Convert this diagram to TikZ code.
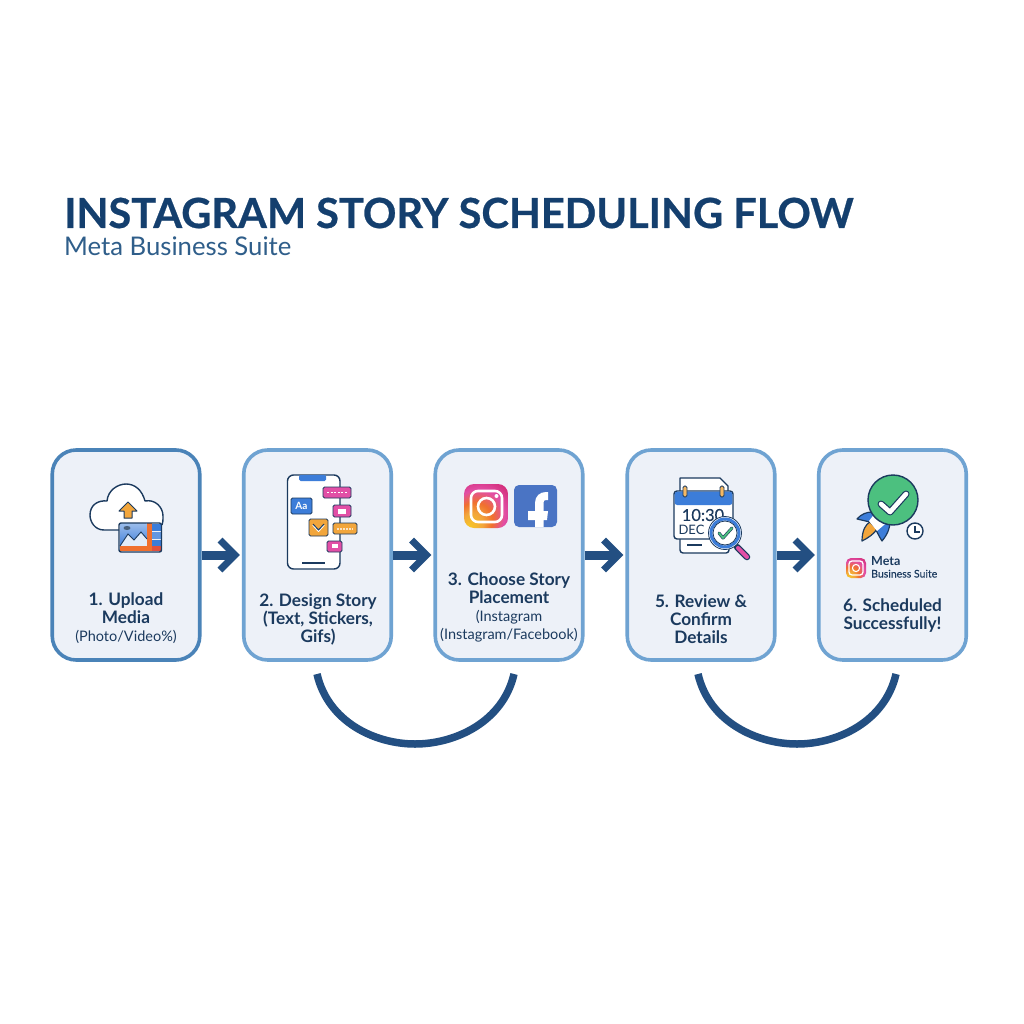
\documentclass[tikz,border=0pt]{standalone}
\usepackage{fontspec}
\setmainfont{Lato}
\newfontfamily\titlefont[FakeBold=0.6]{Lato}
\newfontfamily\medfont[FakeBold=0.25]{Lato}
\usetikzlibrary{arrows.meta}
\definecolor{navy}{HTML}{1B3A5E}
\definecolor{titleblue}{HTML}{143F6E}
\definecolor{subblue}{HTML}{2F5E8A}
\definecolor{flow}{HTML}{234F82}
\definecolor{boxfill}{HTML}{EDF1F8}
\definecolor{edgedark}{HTML}{4A83B8}
\definecolor{edgelight}{HTML}{6FA3D2}
\definecolor{ublue}{HTML}{3C7DD9}
\definecolor{upink}{HTML}{E24FA6}
\definecolor{uorange}{HTML}{F2A63C}
\definecolor{ured}{HTML}{E0513F}
\definecolor{ugreen}{HTML}{4CC07F}
\definecolor{fbblue}{HTML}{4A74C4}
\definecolor{ocdeep}{HTML}{F0702E}
\pgfdeclareradialshading{igshade}{\pgfpoint{-20bp}{-25bp}}{
 color(0bp)=(uorange!60!yellow); color(12bp)=(uorange); color(20bp)=(ocdeep); color(30bp)=(upink); color(40bp)=(upink!55!purple); color(55bp)=(blue!45!purple)}
\tikzset{
 flowbox/.style={draw=edgelight,fill=boxfill,line width=3.6pt,rounded corners=24pt,minimum width=147.5pt,minimum height=210pt,inner sep=0pt},
 lab/.style={text=navy,align=center,font=\fontsize{17.2}{18}\selectfont\bfseries,inner sep=0pt},
 flowarrow/.style={draw=flow,line width=9pt,-{Straight Barb[length=15pt,width=30pt,line width=7pt]},shorten >=2pt},
 flowarc/.style={draw=flow,line width=7.5pt},
 ic/.style={draw=navy,line width=1.4pt,line join=round},
 sticker/.style={draw=navy,line width=.9pt,line join=round,rounded corners=1.5pt},
 stickerdash/.style={white,line width=1.6pt,dash pattern=on 2pt off 1.5pt},
}
\newcommand{\thinline}{\fontsize{14.5}{17}\selectfont\mdseries}
\begin{document}
\begin{tikzpicture}[x=1pt,y=-1pt]
\useasboundingbox (0,0) rectangle (1024,1024);
\fill[white!98!boxfill] (0,0) rectangle (1024,1024);
% title
\node[anchor=base west,inner sep=0pt,text=titleblue,font=\fontsize{41.5}{42}\selectfont\titlefont\bfseries] (title) at (64,228) {INSTAGRAM STORY SCHEDULING FLOW};
\node[anchor=base west,inner sep=0pt,text=subblue,font=\fontsize{25.7}{26}\selectfont] (subtitle) at (64,255) {Meta Business Suite};
% boxes
\node[flowbox,draw=edgedark] (b1) at (126,555) {};
\node[flowbox] (b2) at (317.5,555) {};
\node[flowbox] (b3) at (509,555) {};
\node[flowbox] (b4) at (701,555) {};
\node[flowbox] (b5) at (892.5,555) {};
% arrows
\draw[flowarrow] (b1.east) -- (b2.west);
\draw[flowarrow] (b2.east) -- (b3.west);
\draw[flowarrow] (b3.east) -- (b4.west);
\draw[flowarrow] (b4.east) -- (b5.west);
% arcs
\coordinate (a1s) at (317,674); \coordinate (a1m) at (415,744); \coordinate (a1e) at (514,674);
\coordinate (a2s) at (698,674); \coordinate (a2m) at (797,744); \coordinate (a2e) at (896,674);
\draw[flowarc] (a1s) .. controls (328,722) and (375,744) .. (a1m) .. controls (455,744) and (503,722) .. (a1e);
\draw[flowarc] (a2s) .. controls (709,722) and (757,744) .. (a2m) .. controls (837,744) and (885,722) .. (a2e);
% labels
\node[lab] (l1) at (126,618.5) {1. Upload\\Media\\{\thinline (Photo/Video\%)}};
\node[lab] (l2) at (318,619) {2. Design Story\\(Text, Stickers,\\Gifs)};
\node[lab] (l3) at (509,607.5) {3. Choose Story\\Placement\\{\thinline (Instagram}\\{\thinline (Instagram/Facebook)}};
\node[lab] (l4) at (701,619) {5. Review \&\\Confirm\\Details};
\node[lab] (l5) at (892.5,615.5) {6. Scheduled\\Successfully!};
% icon 1: cloud and picture
\draw[ic,fill=white] (119,530) -- (104,530) .. controls (95,530) and (90,522) .. (90,515) .. controls (90,505) and (98,500) .. (107,501) .. controls (108,490) and (118,484) .. (126,484) .. controls (135,484) and (142,490) .. (145,501) .. controls (155,499) and (163,507) .. (163,516) .. controls (163,520) and (163,523) .. (162,525);
\draw[draw=navy,fill=uorange,line width=1pt,line join=round] (128,502) -- (137,511) -- (132,511) -- (132,518) -- (124,518) -- (124,511) -- (119,511) -- cycle;
\shade[top color=ublue!50!white,bottom color=ublue,rounded corners=1pt] (120,523) rectangle (147,547);
\fill[white!85!ublue] (120,546) -- (128,534) -- (134,540) -- (141,532) -- (147,539) -- (147,546) -- cycle;
\fill[ocdeep] (120,546) rectangle (147,551);
\fill[ocdeep] (147,523) rectangle (152,551);
\fill[ublue] (152,524) rectangle (161,531);
\fill[ublue!80!white] (152,532) rectangle (161,539);
\fill[ublue] (152,540) rectangle (161,546);
\fill[ured] (152,546) rectangle (161,551);
\draw[navy,line width=.9pt] (120,546) -- (128,534) -- (134,540) -- (141,532) -- (147,539);
\fill[navy!80] (127,528) ellipse [x radius=3.5,y radius=2];
\draw[ic,rounded corners=2pt] (119,523) rectangle (161.5,552);
% icon 2: phone
\draw[ic,fill=white,rounded corners=6pt] (287.5,475) rectangle (340,569);
\fill[ublue,rounded corners=1.5pt] (299,475) rectangle (326,481);
\draw[navy,line width=1.4pt] (302,563) -- (325,563);
\draw[sticker,fill=upink] (323,487) rectangle (351,498);
\draw[stickerdash] (327,492.5) -- (347,492.5);
\draw[sticker,fill=ublue] (291,498) rectangle (312,514);
\node[inner sep=0pt,text=white,font=\fontsize{10}{10}\selectfont\bfseries] (aa) at (301.5,506) {Aa};
\draw[sticker,fill=upink] (333,505) rectangle (351,517);
\fill[white] (338,508.5) rectangle (346,513.5);
\draw[sticker,fill=uorange] (309,519) rectangle (328,536);
\draw[white,line width=1.6pt] (313,525) -- (318.5,531) -- (324,525);
\draw[navy,line width=1pt] (313,524) -- (318.5,530) -- (324,524);
\draw[sticker,fill=uorange] (333,523) rectangle (357,534);
\draw[white!70!uorange,line width=2.4pt,dash pattern=on 2pt off 1pt] (337,529) -- (353,529);
\draw[sticker,fill=upink] (327,541) rectangle (342,552);
\fill[white] (331.5,544) rectangle (337.5,548);
% icon 3: instagram and facebook
\shade[shading=igshade,rounded corners=10pt] (464,484) rectangle (508,528);
\draw[white,line width=2.6pt,rounded corners=7pt] (471,491) rectangle (502,522);
\draw[white,line width=2.6pt] (486.5,506.5) circle [radius=8.5];
\fill[white] (496.5,496) circle [radius=2];
\fill[fbblue,rounded corners=5pt] (514,485) rectangle (557,527);
\fill[white] (535,527) -- (535,520) -- (528,520) -- (528,511) -- (535,511) -- (535,503) .. controls (535,496) and (540,492) .. (546,492) -- (548,492) -- (548,500) -- (546,500) .. controls (544,500) and (543.5,501) .. (543.5,503) -- (543.5,511) -- (548,511) -- (547,520) -- (543.5,520) -- (543.5,527) -- cycle;
% icon 4: calendar
\draw[ic,fill=white] (680,495) -- (680,478) -- (720,478) -- (728,486) -- (728,495) -- cycle;
\draw[ic,fill=white,rounded corners=3pt] (680,535) rectangle (729,553);
\draw[ic,fill=white,rounded corners=3pt] (674,491) rectangle (733,539);
\fill[ublue,rounded corners=2.5pt] (674.7,491.7) rectangle (732.3,505);
\draw[navy,line width=.8pt,fill=uorange!80!white,rounded corners=1.5pt] (683,486) rectangle (687,497);
\draw[navy,line width=.8pt,fill=uorange!80!white,rounded corners=1.5pt] (720,486) rectangle (724,497);
\node[inner sep=0pt,text=navy,font=\fontsize{16.5}{17}\selectfont\medfont] (time) at (703,515) {10:30};
\node[inner sep=0pt,text=navy,font=\fontsize{13}{13}\selectfont] (dec) at (691.5,530) {DEC};
\draw[navy,line width=1.2pt] (687,545) -- (702,545);
\draw[navy,line width=6.5pt,line cap=round] (737,547) -- (747,557);
\draw[upink,line width=4pt,line cap=round] (738,548) -- (747,557);
\draw[navy,fill=white,line width=.8pt] (725,533) circle [radius=16.5];
\draw[ublue,line width=3pt] (725,533) circle [radius=14];
\draw[navy,line width=.8pt] (725,533) circle [radius=12];
\draw[navy,line width=3pt,line cap=round,line join=round] (719,533) -- (723,538) -- (732,528);
\draw[ugreen,line width=1.8pt,line cap=round,line join=round] (719,533) -- (723,538) -- (732,528);
% icon 5: rocket, badge, clock
\draw[ic,line width=1.2pt,fill=uorange] (862,541) .. controls (862,530) and (866,524) .. (870,522) -- (877,529) .. controls (874,534) and (868,538) .. (862,541) -- cycle;
\draw[ic,line width=1.2pt,fill=ublue] (857,519) .. controls (861,514) and (867,512) .. (872,512) -- (878,512) -- (870,522) -- cycle;
\draw[ic,line width=1.2pt,fill=ublue] (882,541) .. controls (888,534) and (890,527) .. (890,522) -- (888,518) -- (876,530) .. controls (878,534) and (880,538) .. (882,541) -- cycle;
\fill[white] (869,521) -- (879,508) -- (892,518) -- (877,531) -- cycle;
\draw[ic,fill=ugreen] (893,500) circle [radius=25];
\draw[navy,line width=7pt,line cap=round,line join=round] (881,504) -- (890,512) -- (906,494);
\draw[white,line width=4.6pt,line cap=round,line join=round] (881,504) -- (890,512) -- (906,494);
\draw[ic,fill=white] (915,531) circle [radius=8];
\draw[navy,line width=1.1pt] (915,526) -- (915,532) -- (920,532);
\shade[shading=igshade,rounded corners=5pt] (846,558) rectangle (866,578);
\draw[white,line width=1.3pt,rounded corners=3pt] (849,561) rectangle (863,575);
\draw[white,line width=1.1pt] (856,568) circle [radius=3.6];
\node[anchor=base west,inner sep=0pt,text=navy,font=\fontsize{12.5}{13}\selectfont\bfseries] (meta) at (871,565) {Meta};
\node[anchor=base west,inner sep=0pt,text=navy,font=\fontsize{10.5}{11}\selectfont\medfont] (bsuite) at (871,577.5) {Business Suite};
\end{tikzpicture}
\end{document}
